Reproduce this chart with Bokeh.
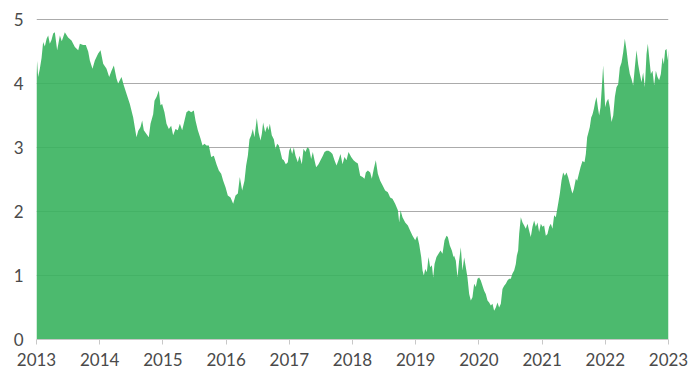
from bokeh.plotting import figure
from bokeh.models import Range1d, FixedTicker, ColumnDataSource
from bokeh.embed import file_html
from bokeh.resources import INLINE

start_year = 2013
years_since_start = [
    0.000, 0.010, 0.026, 0.053, 0.080, 0.105, 0.132, 0.160, 0.185, 0.210, 0.237, 0.264, 0.290, 0.327, 0.370, 0.400,
    0.448, 0.500, 0.554, 0.607, 0.660, 0.686, 0.738, 0.780, 0.818, 0.844, 0.886, 0.923, 0.976, 1.013, 1.055, 1.108,
    1.150, 1.187, 1.224, 1.266, 1.292, 1.345, 1.382, 1.424, 1.477, 1.530, 1.582, 1.610, 1.635,
    1.646, 1.672, 1.698, 1.740, 1.777, 1.804, 1.846, 1.867, 1.899, 1.936, 1.962, 1.988, 2.025, 2.057, 2.094, 2.131,
    2.162, 2.199, 2.236, 2.268, 2.305, 2.342, 2.373, 2.410, 2.447, 2.489, 2.516, 2.553, 2.595, 2.627, 2.658, 2.690,
    2.727, 2.764, 2.806, 2.848, 2.885, 2.922, 2.954, 2.991, 3.027, 3.070, 3.112, 3.149, 3.186, 3.217, 3.254, 3.291,
    3.317, 3.344, 3.370, 3.397, 3.423, 3.449, 3.486, 3.513, 3.544, 3.565, 3.586, 3.618, 3.650, 3.671, 3.692, 3.723,
    3.755, 3.782, 3.808, 3.834, 3.861, 3.887, 3.913, 3.945, 3.977, 3.998, 4.019, 4.045, 4.072, 4.098, 4.135, 4.161,
    4.198, 4.225, 4.256, 4.283, 4.314, 4.346, 4.372, 4.399, 4.425, 4.462, 4.494, 4.531, 4.557, 4.589, 4.620, 4.652,
    4.683, 4.715, 4.747, 4.778, 4.810, 4.842, 4.873, 4.905, 4.937,
    4.979, 5.016, 5.053, 5.085, 5.122, 5.159, 5.190, 5.211, 5.243, 5.280, 5.306, 5.338, 5.369, 5.401, 5.438, 5.475,
    5.517, 5.559, 5.596, 5.633, 5.675, 5.718, 5.739, 5.760, 5.791, 5.834, 5.876, 5.913, 5.950, 5.992, 6.024, 6.055,
    6.087, 6.108, 6.129, 6.150, 6.176, 6.203, 6.229, 6.256, 6.277, 6.298, 6.329, 6.361, 6.393, 6.424, 6.456, 6.488,
    6.509, 6.540, 6.572, 6.598,
    6.608, 6.635, 6.661, 6.687, 6.714, 6.740, 6.767, 6.793, 6.819, 6.846, 6.872, 6.898, 6.925, 6.951, 6.978, 7.004,
    7.030, 7.057, 7.083, 7.109, 7.136, 7.162, 7.189, 7.215, 7.241, 7.268, 7.294, 7.320, 7.347, 7.373, 7.400, 7.426,
    7.452, 7.479, 7.505, 7.531, 7.558, 7.584, 7.600, 7.621, 7.637, 7.663, 7.690, 7.716, 7.742, 7.769, 7.795, 7.821,
    7.848, 7.874, 7.901, 7.927, 7.953, 7.980, 8.006, 8.032, 8.059, 8.085, 8.112, 8.138, 8.164, 8.191, 8.217,
    8.254, 8.281, 8.307, 8.333, 8.360, 8.386, 8.413, 8.439, 8.465, 8.481, 8.502, 8.534, 8.555, 8.587, 8.608, 8.639,
    8.671, 8.692, 8.713, 8.734, 8.755, 8.777, 8.798, 8.819, 8.840, 8.861, 8.882, 8.903, 8.924, 8.945, 8.966, 8.982,
    8.998, 9.019, 9.046, 9.072, 9.098, 9.125, 9.151, 9.177, 9.204, 9.230, 9.257, 9.283, 9.309, 9.336, 9.362, 9.388,
    9.415, 9.441, 9.467, 9.494, 9.520, 9.547, 9.573, 9.599, 9.626, 9.652, 9.673, 9.694, 9.721, 9.747, 9.773, 9.800,
    9.826, 9.852, 9.879, 9.905, 9.926, 9.947, 9.969, 9.984, 10.000,
]
values = [
    4.15, 4.35, 4.10, 4.23, 4.40, 4.65, 4.58, 4.70, 4.75, 4.62, 4.68, 4.78, 4.80, 4.52, 4.75, 4.66,
    4.80, 4.72, 4.67, 4.57, 4.52, 4.62, 4.60, 4.60, 4.50, 4.36, 4.23, 4.36, 4.47, 4.52, 4.31, 4.23,
    4.10, 4.20, 4.28, 4.08, 4.00, 4.10, 3.97, 3.84, 3.68, 3.47, 3.16, 3.26, 3.30,
    3.32, 3.42, 3.27, 3.21, 3.16, 3.37, 3.52, 3.73, 3.79, 3.89, 3.66, 3.68, 3.55, 3.37, 3.29, 3.34,
    3.19, 3.29, 3.27, 3.37, 3.27, 3.42, 3.55, 3.58, 3.55, 3.58, 3.42, 3.27, 3.14, 3.03, 3.06, 3.03,
    3.03, 2.85, 2.87, 2.74, 2.64, 2.59, 2.48, 2.38, 2.25, 2.22, 2.12, 2.25, 2.28, 2.54, 2.33, 2.48,
    2.72, 2.87, 3.13, 3.19, 3.29, 3.16, 3.46, 3.24, 3.11, 3.21, 3.39, 3.24, 3.34, 3.27, 3.37, 3.19,
    3.13, 2.98, 3.06, 3.03, 2.93, 2.82, 2.80, 2.74, 2.77, 2.95, 3.00, 2.90, 3.00, 2.87, 2.77, 2.87,
    2.74, 2.98, 2.93, 3.00, 2.98, 2.82, 2.93, 2.80, 2.69, 2.74, 2.80, 2.87, 2.93, 2.95, 2.95, 2.93,
    2.90, 2.80, 2.72, 2.80, 2.90, 2.74, 2.85, 2.80, 2.93,
    2.85, 2.80, 2.77, 2.75, 2.56, 2.54, 2.51, 2.61, 2.64, 2.61, 2.51, 2.67, 2.80, 2.59, 2.48, 2.41,
    2.33, 2.30, 2.22, 2.20, 2.12, 2.02, 1.83, 2.02, 1.91, 1.83, 1.78, 1.70, 1.62, 1.55, 1.62, 1.49,
    1.29, 1.08, 1.00, 1.10, 1.05, 1.29, 1.13, 1.16, 0.97, 1.18, 1.29, 1.34, 1.39, 1.34, 1.55, 1.62,
    1.60, 1.47, 1.39, 1.29,
    1.31, 1.23, 0.97, 1.23, 1.44, 1.08, 1.28, 1.13, 0.97, 0.71, 0.61, 0.66, 0.87, 0.82, 0.95, 0.97,
    0.92, 0.84, 0.76, 0.71, 0.61, 0.58, 0.53, 0.56, 0.45, 0.50, 0.58, 0.50, 0.56, 0.79, 0.84, 0.87,
    0.92, 0.95, 0.95, 1.03, 1.08, 1.18, 1.31, 1.39, 1.65, 1.91, 1.83, 1.78, 1.73, 1.81, 1.70, 1.60,
    1.76, 1.86, 1.76, 1.83, 1.68, 1.81, 1.76, 1.78, 1.62, 1.65, 1.76, 1.81, 1.73, 1.94, 1.91,
    2.12, 2.28, 2.48, 2.61, 2.56, 2.61, 2.53, 2.43, 2.33, 2.28, 2.35, 2.51, 2.48, 2.61, 2.69, 2.79,
    2.77, 2.90, 3.16, 3.24, 3.32, 3.47, 3.52, 3.60, 3.71, 3.79, 3.63, 3.50, 3.63, 3.94, 4.28, 3.99,
    3.63, 3.71, 3.76, 3.63, 3.40, 3.50, 3.79, 3.94, 3.99, 4.25, 4.33, 4.49, 4.70, 4.52, 4.30, 4.15,
    4.07, 3.97, 4.25, 4.52, 4.30, 4.15, 4.02, 4.17, 3.94, 4.46, 4.62, 4.41, 4.15, 4.20, 3.97, 4.20,
    4.10, 4.05, 4.15, 4.41, 4.30, 4.52, 4.54, 4.36, 4.52,
]
x_tick_years = [2013, 2014, 2015, 2016, 2017, 2018, 2019, 2020, 2021, 2022, 2023]
x_tick_labels = [str(y) for y in x_tick_years]
y_ticks = [0, 1, 2, 3, 4, 5]

source = ColumnDataSource(dict(
    x=[start_year + t for t in years_since_start],
    y=values,
))

FONT = "Lato"
TEXT = "#4a4a4a"

# frame is 321px tall: 0 at the bottom, 5 one pixel below the top edge so its grid line shows
p = figure(width=699, height=378, output_backend="svg", toolbar_location=None,
           x_range=Range1d(2013, 2023), y_range=Range1d(0, 5 + 1 / 64),
           min_border_left=36, min_border_right=31, min_border_top=18, min_border_bottom=39)
p.outline_line_color = None
p.background_fill_color = "white"
p.border_fill_color = "white"

p.varea(x="x", y1=0, y2="y", source=source, fill_color="#39B35E", fill_alpha=0.9)

p.xaxis.ticker = FixedTicker(ticks=x_tick_years)
p.xaxis.major_label_overrides = {y: l for y, l in zip(x_tick_years, x_tick_labels)}
p.xaxis.axis_line_color = "#c8c8c8"
p.xaxis.major_tick_line_color = "#c8c8c8"
p.xaxis.major_tick_out = 5
p.xaxis.major_tick_in = 0
p.xaxis.minor_tick_line_color = None
p.xaxis.major_label_standoff = 8
p.xaxis.major_label_text_font = FONT
p.xaxis.major_label_text_font_size = "17px"
p.xaxis.major_label_text_color = TEXT

p.yaxis.ticker = FixedTicker(ticks=y_ticks)
p.yaxis.axis_line_color = None
p.yaxis.major_tick_line_color = None
p.yaxis.minor_tick_line_color = None
p.yaxis.major_tick_out = 0
p.yaxis.major_tick_in = 0
p.yaxis.major_label_standoff = 13
p.yaxis.major_label_text_font = FONT
p.yaxis.major_label_text_font_size = "17px"
p.yaxis.major_label_text_color = TEXT

p.xgrid.grid_line_color = None
p.ygrid.grid_line_color = "#ababab"
p.ygrid.grid_line_width = 1

open("out.html", "w").write(file_html(p, INLINE))
